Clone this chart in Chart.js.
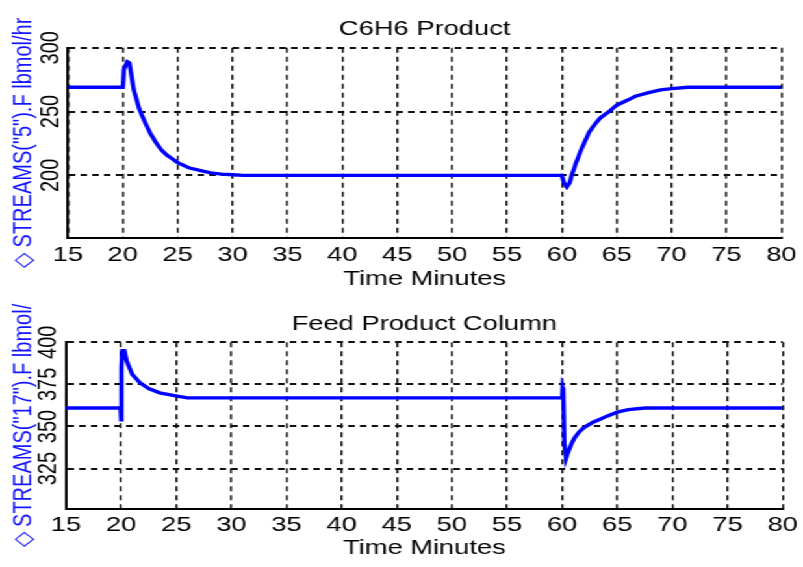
<!DOCTYPE html>
<html>
<head>
<meta charset="utf-8">
<script src="https://cdn.jsdelivr.net/npm/chart.js@4.4.1/dist/chart.umd.min.js"></script>
<style>
  html, body { margin: 0; padding: 0; background: #fff; overflow: hidden; }
  /* plots are drawn narrow and widened, like the old wide-font trend window */
  #plots { position: absolute; left: 0; top: 0; width: 618px; transform: scaleX(1.2994); transform-origin: 0 0; }
  canvas { display: block; }
</style>
</head>
<body>
<div id="plots">
  <canvas id="c6h6Chart" width="618" height="290"></canvas>
  <canvas id="feedChart" width="618" height="277"></canvas>
</div>
<script>
const timeTicks = [15, 20, 25, 30, 35, 40, 45, 50, 55, 60, 65, 70, 75, 80];

// STREAMS("5").F - C6H6 product, lbmol/hr
const c6h6Time = [15, 20, 20.1, 20.4, 20.6, 21, 21.5, 22, 22.5, 23, 23.5, 24, 24.5, 25, 26, 27, 28, 29, 30, 31,
  60, 60.2, 60.45, 60.7, 60.9, 61.3, 61.8, 62.5, 63, 63.5, 64.3, 65, 66, 66.7, 68, 69, 70, 71.5, 80];
const c6h6Flow = [269, 269, 283, 289, 288, 267, 252, 242, 233, 226, 220, 216, 213, 210, 206, 204, 202, 201, 200.5, 200,
  200, 194, 191, 194, 200, 210, 221, 234, 240, 245, 250, 255, 259, 262, 265, 267, 268, 269, 269];
const c6h6Ticks = [200, 250, 300];

// STREAMS("17").F - feed product column, lbmol/hr
const feedTime = [15, 19.95, 20, 20.03, 20.1, 20.3, 20.5, 21, 21.7, 22.5, 23.5, 24.7, 26,
  60, 60.05, 60.1, 60.2, 60.35, 60.5, 60.8, 61.1, 61.5, 62, 62.8, 63.5, 64, 65, 66, 67.5, 80];
const feedFlow = [361, 361, 354, 385, 395, 395, 389, 381, 376, 372.5, 370, 368.5, 367,
  367, 373, 372, 340, 331, 334, 339, 343, 346.5, 349.5, 352.5, 354.5, 356, 358.5, 360, 361, 361];
const feedTicks = [325, 350, 375, 400];

Chart.defaults.font.family = '"Liberation Sans", Arial, sans-serif';
Chart.defaults.color = "#000";

// y tick labels are written along the axis, reading upwards
const rotatedYLabels = {
  id: "rotatedYLabels",
  afterDraw(chart) {
    const { ctx, chartArea } = chart;
    const y = chart.scales.y;
    ctx.save();
    ctx.font = '20px "Liberation Sans", Arial, sans-serif';
    ctx.fillStyle = "#000";
    ctx.textAlign = "center";
    ctx.textBaseline = "middle";
    y.ticks.forEach((tick) => {
      ctx.save();
      ctx.translate(chartArea.left - 13, y.getPixelForValue(tick.value));
      ctx.rotate(-Math.PI / 2);
      ctx.fillText(String(tick.value), 0, 0);
      ctx.restore();
    });
    ctx.restore();
  },
};

const drawPanel = (id, panel) => {
  const points = panel.time.map((t, i) => ({ x: t, y: panel.flow[i] }));

  new Chart(document.getElementById(id), {
    type: "line",
    data: {
      datasets: [
        {
          data: points,
          borderColor: "#0000ff",
          borderWidth: 3.4,
          pointRadius: 0,
          tension: 0,
          fill: false,
        },
      ],
    },
    options: {
      responsive: false,
      animation: false,
      devicePixelRatio: 1,
      layout: { padding: { left: 0, right: 12.4, top: 0, bottom: 0 } },
      plugins: {
        legend: { display: false },
        tooltip: { enabled: false },
        title: {
          display: true,
          text: panel.title,
          fullSize: false,
          color: "#000",
          font: { size: 21, weight: "normal", lineHeight: 1 },
          padding: panel.titlePad,
        },
      },
      scales: {
        x: {
          type: "linear",
          min: 15,
          max: 80,
          afterBuildTicks: (scale) => {
            scale.ticks = timeTicks.map((v) => ({ value: v }));
          },
          afterFit: (scale) => {
            scale.height = panel.xHeight;
          },
          ticks: { color: "#000", font: { size: 21 }, padding: panel.tickPad, maxRotation: 0, autoSkip: false },
          grid: { color: "#111", lineWidth: 1.5, drawTicks: false },
          border: { display: true, color: "#000", width: 2, dash: [5, 4] },
          title: {
            display: true,
            text: "Time Minutes",
            color: "#000",
            font: { size: 21, lineHeight: 1 },
            padding: { top: 0, bottom: panel.xTitlePad },
          },
        },
        y: {
          type: "linear",
          min: panel.yMin,
          max: panel.yMax,
          afterBuildTicks: (scale) => {
            scale.ticks = panel.yTicks.map((v) => ({ value: v }));
          },
          afterFit: (scale) => {
            scale.width = panel.yWidth;
          },
          ticks: { display: false },
          grid: { color: "#111", lineWidth: 2, drawTicks: false },
          border: { display: true, color: "#000", width: 2, dash: [5, 4] },
          title: {
            display: true,
            text: panel.yTitle,
            color: "#1414ff",
            font: { size: 20, lineHeight: 1.2 },
            padding: { top: 6, bottom: 0 },
          },
        },
      },
    },
    plugins: [rotatedYLabels],
  });
};

drawPanel("c6h6Chart", {
  title: "C6H6 Product",
  yTitle: "\u25C7 STREAMS(\"5\").F lbmol/hr",
  time: c6h6Time,
  flow: c6h6Flow,
  yTicks: c6h6Ticks,
  yMin: 151,
  yMax: 300,
  yWidth: 52.3,
  xHeight: 52,
  xTitlePad: 0,
  tickPad: 5,
  titlePad: { top: 18.5, bottom: 8.2 },
});

drawPanel("feedChart", {
  title: "Feed Product Column",
  yTitle: "\u25C7 STREAMS(\"17\").F lbmol/",
  time: feedTime,
  flow: feedFlow,
  yTicks: feedTicks,
  yMin: 301,
  yMax: 400,
  yWidth: 50.8,
  xHeight: 58,
  xTitlePad: 8.5,
  tickPad: 4,
  titlePad: { top: 24, bottom: 7.3 },
});
</script>
</body>
</html>
